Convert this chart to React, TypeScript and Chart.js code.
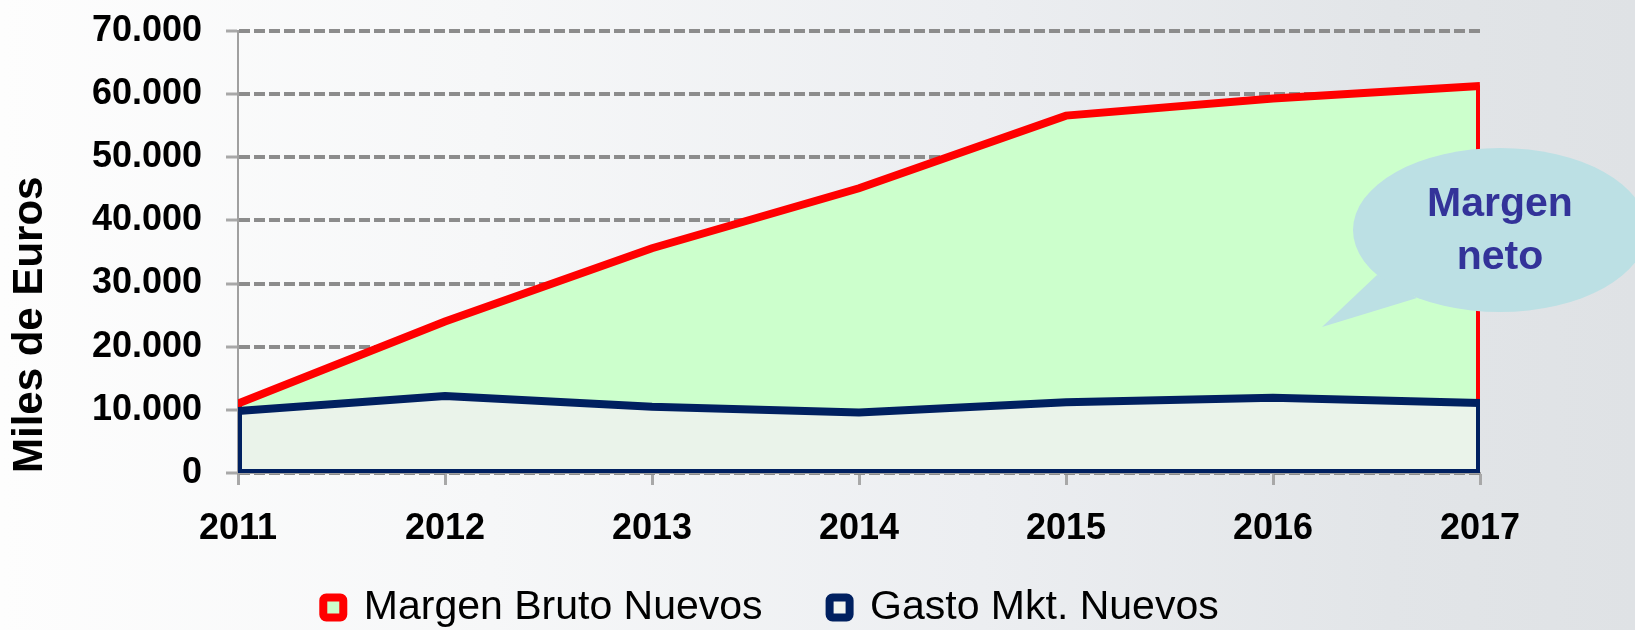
import React, { useEffect, useRef } from "react";
import { Chart, registerables } from "chart.js";

Chart.register(...registerables);

const years: string[] = ["2011", "2012", "2013", "2014", "2015", "2016", "2017"];
const margenBruto: number[] = [11000, 24000, 35600, 45100, 56600, 59300, 61300];
const gastoMkt: number[] = [9800, 12200, 10500, 9600, 11200, 11900, 11100];
const seriesNames: string[] = ["Margen Bruto Nuevos", "Gasto Mkt. Nuevos"];
const yAxisTitle = "Miles de Euros";
const calloutLines: string[] = ["Margen", "neto"];
const yMin = 0;
const yMax = 70000;
const yStep = 10000;

const FONT = "'Liberation Sans', Arial, Helvetica, sans-serif";

const formatThousands = (v: number): string =>
  String(Math.round(v)).replace(/\B(?=(\d{3})+(?!\d))/g, ".");

const areaEdgesPlugin = {
  id: "areaEdges",
  afterDatasetDraw(chart: any, args: any) {
    const ds = chart.data.datasets[args.index];
    const pts = args.meta.data;
    if (!pts || !pts.length) return;
    const { ctx, chartArea, scales } = chart;
    const y0 = scales.y.getPixelForValue(0);
    const first = pts[0];
    const last = pts[pts.length - 1];
    ctx.save();
    ctx.beginPath();
    ctx.rect(chartArea.left, chartArea.top, chartArea.right - chartArea.left, chartArea.bottom - chartArea.top);
    ctx.clip();
    ctx.beginPath();
    ctx.moveTo(last.x, last.y);
    ctx.lineTo(last.x, y0);
    ctx.lineTo(first.x, y0);
    ctx.lineTo(first.x, first.y);
    ctx.strokeStyle = ds.borderColor;
    ctx.lineWidth = ds.borderWidth;
    ctx.lineJoin = "miter";
    ctx.stroke();
    ctx.restore();
  },
};

const calloutPlugin = {
  id: "callout",
  afterDraw(chart: any) {
    const { ctx, chartArea } = chart;
    const cx = chartArea.right + 20;
    const cy = chartArea.top + 199;
    const rx = 147;
    const ry = 82;
    ctx.save();
    ctx.fillStyle = "#BCE0E4";
    ctx.beginPath();
    ctx.ellipse(cx, cy, rx, ry, 0, 0, Math.PI * 2);
    ctx.fill();
    ctx.beginPath();
    ctx.moveTo(chartArea.right - 103, chartArea.top + 244);
    ctx.lineTo(chartArea.right - 158, chartArea.top + 296);
    ctx.lineTo(chartArea.right - 63, chartArea.top + 267);
    ctx.closePath();
    ctx.fill();
    ctx.fillStyle = "#333399";
    ctx.font = `bold 41px ${FONT}`;
    ctx.textAlign = "center";
    ctx.textBaseline = "middle";
    ctx.fillText(calloutLines[0], cx, cy - 25);
    ctx.fillText(calloutLines[1], cx, cy + 28);
    ctx.restore();
  },
};

export default function App() {
  const canvasRef = useRef<HTMLCanvasElement | null>(null);

  useEffect(() => {
    document.body.style.margin = "0";
    const canvas = canvasRef.current;
    if (!canvas) return;
    const legendFills = ["#CCFFCC", "#F2F5F2"];
    const chart = new Chart(canvas, {
      type: "line",
      data: {
        labels: years,
        datasets: [
          {
            label: seriesNames[0],
            data: margenBruto,
            borderColor: "#FF0000",
            backgroundColor: "#CCFFCC",
            borderWidth: 8,
            fill: "origin",
            pointRadius: 0,
            tension: 0,
            clip: 0,
            order: 2,
          },
          {
            label: seriesNames[1],
            data: gastoMkt,
            borderColor: "#002060",
            backgroundColor: "#EAF3EA",
            borderWidth: 8,
            fill: "origin",
            pointRadius: 0,
            tension: 0,
            clip: 0,
            order: 1,
          },
        ],
      },
      options: {
        responsive: false,
        animation: false,
        events: [],
        layout: { padding: { top: 31, left: 0, right: 93, bottom: -8 } },
        plugins: {
          tooltip: { enabled: false },
          legend: {
            position: "bottom",
            align: "center",
            labels: {
              color: "#000",
              font: { family: FONT, size: 41 },
              boxWidth: 20,
              boxHeight: 20,
              padding: 67,
              useBorderRadius: true,
              borderRadius: 3,
              sort: (a: any, b: any) => a.datasetIndex - b.datasetIndex,
              generateLabels: (ch: any) => {
                const items = Chart.defaults.plugins.legend.labels.generateLabels(ch);
                return items.map((it: any) => ({
                  ...it,
                  fillStyle: legendFills[it.datasetIndex],
                  lineWidth: 8,
                  lineJoin: "round",
                }));
              },
            },
          },
        },
        scales: {
          x: {
            type: "category",
            offset: false,
            afterFit: (s: any) => {
              s.height = 47;
            },
            grid: {
              display: true,
              drawOnChartArea: false,
              drawTicks: true,
              tickLength: 12,
              tickColor: "#A8A8A8",
              tickWidth: 3,
            },
            border: { display: true, color: "#A0A0A0", width: 2 },
            ticks: {
              color: "#000",
              mirror: true,
              padding: -78,
              maxRotation: 0,
              autoSkip: false,
              font: { family: FONT, size: 36, weight: "bold" },
            },
          },
          y: {
            type: "linear",
            position: "left",
            min: yMin,
            max: yMax,
            afterFit: (s: any) => {
              s.width = 238;
              s.paddingTop = 0;
              s.paddingBottom = 0;
            },
            grid: {
              color: "#8C8C8C",
              lineWidth: 4,
              tickLength: 12,
              tickColor: "#A8A8A8",
              tickWidth: 3,
              tickBorderDash: [],
            },
            border: { display: true, color: "#A0A0A0", width: 2, dash: [11, 4] },
            ticks: {
              stepSize: yStep,
              color: "#000",
              padding: 24,
              font: { family: FONT, size: 36, weight: "bold" },
              callback: (v: any) => formatThousands(Number(v)),
            },
            title: {
              display: true,
              text: yAxisTitle,
              align: "start",
              color: "#000",
              font: { family: FONT, size: 42, weight: "bold", lineHeight: 1.2 },
              padding: { top: 5, bottom: 0 },
            },
          },
          yR: {
            type: "linear",
            position: "right",
            display: true,
            min: yMin,
            max: yMax,
            grid: { display: false, drawTicks: false },
            border: { display: false },
            ticks: { display: false },
            afterFit: (s: any) => {
              s.width = 62;
              s.paddingTop = 0;
              s.paddingBottom = 0;
            },
          },
        },
      },
      plugins: [areaEdgesPlugin, calloutPlugin],
    } as any);
    return () => {
      chart.destroy();
    };
  }, []);

  return (
    <div
      style={{
        width: 1635,
        height: 630,
        background:
          "linear-gradient(to right, #fdfdfd 0%, #f6f7f8 30%, #eceef1 60%, #e2e5e8 85%, #dfe2e5 100%)",
      }}
    >
      <canvas ref={canvasRef} width={1635} height={630} style={{ display: "block" }} />
    </div>
  );
}
